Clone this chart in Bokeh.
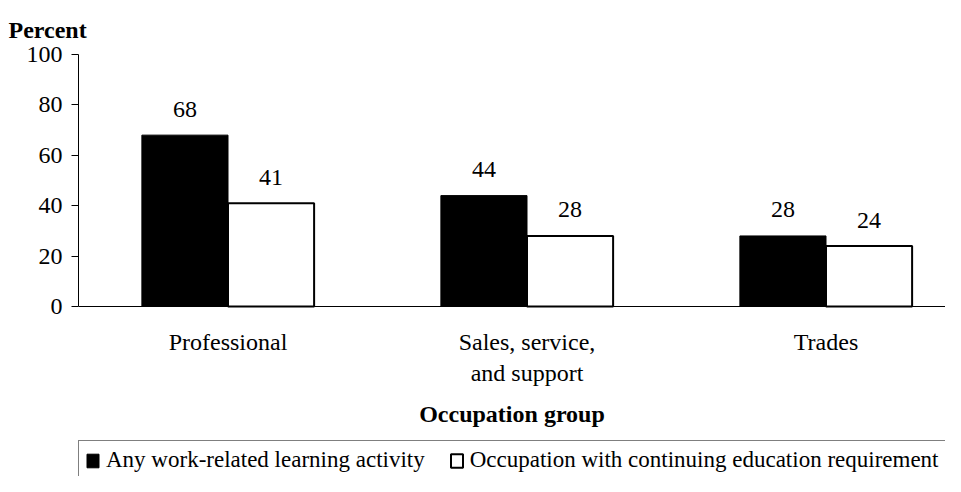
from bokeh.plotting import figure
from bokeh.models import Range1d, FixedTicker, ColumnDataSource, Legend, LegendItem
from bokeh.transform import dodge
from bokeh.core.properties import value
from bokeh.embed import file_html
from bokeh.resources import INLINE

categories = ["Professional", "Sales, service,\nand support", "Trades"]
any_learning = [68, 44, 28]
cont_edu = [41, 28, 24]
y_ticks = [0, 20, 40, 60, 80, 100]
series_names = ["Any work-related learning activity",
                "Occupation with continuing education requirement"]

FONT = "Liberation Serif"
FS = "24px"

xpos = [i + 0.5 for i in range(len(categories))]
src = ColumnDataSource(dict(x=xpos, a=any_learning, b=cont_edu,
                            at=[str(v) for v in any_learning],
                            bt=[str(v) for v in cont_edu]))

# frame: top 54, y=0 at 306, bottom 476  -> 2.52 px per unit
y_bottom = -(476 - 306) / 2.52
p = figure(width=945, height=476, output_backend="svg", toolbar_location=None,
           x_range=Range1d(0, 867 / 299), y_range=Range1d(y_bottom, 100),
           min_border_left=78, min_border_right=0, min_border_top=54, min_border_bottom=0,
           title="Percent")
p.outline_line_color = None
p.grid.visible = False
p.background_fill_color = "white"
p.border_fill_color = "white"

p.title.text_font = FONT
p.title.text_font_size = FS
p.title.text_font_style = "bold"
p.title.text_color = "black"
p.title.align = "left"
p.title.offset = -70
p.title.standoff = 24

w = 0.288
r1 = p.vbar(x=dodge("x", -0.144, range=p.x_range), top="a", width=w, bottom=0, source=src,
            fill_color="black", line_color="black", line_width=1)
r2 = p.vbar(x=dodge("x", 0.144, range=p.x_range), top="b", width=w, bottom=0, source=src,
            fill_color="white", line_color="black", line_width=2)

p.text(x=dodge("x", -0.144, range=p.x_range), y="a", text="at", source=src,
       text_font=value(FONT), text_font_size=FS, text_align="center",
       text_baseline="alphabetic", y_offset=-26, text_color="black")
p.text(x=dodge("x", 0.144, range=p.x_range), y="b", text="bt", source=src,
       text_font=value(FONT), text_font_size=FS, text_align="center",
       text_baseline="alphabetic", y_offset=-26, text_color="black")

ya = p.yaxis[0]
ya.ticker = FixedTicker(ticks=y_ticks)
ya.bounds = (0, 100)
ya.major_tick_in = 0
ya.major_tick_out = 7
ya.minor_tick_line_color = None
ya.major_label_standoff = 9
ya.major_label_text_font = FONT
ya.major_label_text_font_size = FS
ya.major_label_text_color = "black"
ya.axis_line_color = "black"
ya.major_tick_line_color = "black"

xa = p.xaxis[0]
xa.fixed_location = 0
xa.ticker = FixedTicker(ticks=xpos)
xa.major_label_overrides = {x: c for x, c in zip(xpos, categories)}
xa.major_tick_in = 0
xa.major_tick_out = 0
xa.minor_tick_line_color = None
xa.major_label_standoff = 22
xa.major_label_text_font = FONT
xa.major_label_text_font_size = FS
xa.major_label_text_color = "black"
xa.axis_line_color = "black"
xa.axis_label = "Occupation group"
xa.axis_label_text_font = FONT
xa.axis_label_text_font_size = FS
xa.axis_label_text_font_style = "bold"
xa.axis_label_standoff = 12
xa.axis_label_text_color = "black"

legend = Legend(items=[LegendItem(label=series_names[0], renderers=[r1]),
                       LegendItem(label=series_names[1], renderers=[r2])],
                orientation="horizontal", location=(0, -4),
                label_text_font=FONT, label_text_font_size="23px",
                glyph_width=15, glyph_height=17, label_standoff=6, spacing=24,
                padding=6, margin=0, border_line_color="black", border_line_width=1,
                background_fill_color="white", label_text_color="black")
p.add_layout(legend, "center")

open("out.html", "w").write(file_html(p, INLINE))
